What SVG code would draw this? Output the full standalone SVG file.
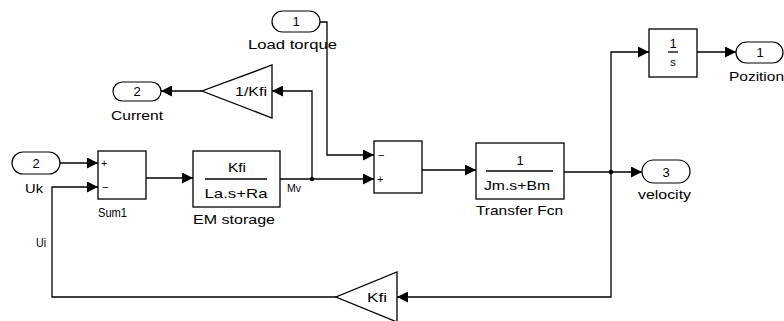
<svg xmlns="http://www.w3.org/2000/svg" width="784" height="321" viewBox="0 0 784 321">
<style>
.blk{fill:#fff;stroke:#000;stroke-width:1.3}
.port{fill:#fff;stroke:#000;stroke-width:1.2}
.ln{fill:none;stroke:#000;stroke-width:1.3}
text{font-family:"Liberation Sans",Arial,sans-serif;font-size:13px;fill:#000}
.c{text-anchor:middle}
.sm{font-size:11px}
</style>
<defs>
<marker id="ah" markerUnits="userSpaceOnUse" markerWidth="11" markerHeight="11" refX="10" refY="5" orient="auto" viewBox="0 0 10 10">
<path d="M0,0 L10,5 L0,10 z" fill="#000"/>
</marker>
</defs>
<rect width="784" height="321" fill="#fff"/>
<g id="connectors">
<path class="ln" d="M60,163 H98" marker-end="url(#ah)"/>
<path class="ln" d="M336,297 H52 V187 H98" marker-end="url(#ah)"/>
<path class="ln" d="M146,178 H193" marker-end="url(#ah)"/>
<path class="ln" d="M280,179 H374" marker-end="url(#ah)"/>
<path class="ln" d="M312,179 V91 H272" marker-end="url(#ah)"/>
<path class="ln" d="M202,91 H161" marker-end="url(#ah)"/>
<path class="ln" d="M320,22 H327 V155 H374" marker-end="url(#ah)"/>
<path class="ln" d="M422,170 H476" marker-end="url(#ah)"/>
<path class="ln" d="M564,172 H642" marker-end="url(#ah)"/>
<path class="ln" d="M611,172 V52 H649" marker-end="url(#ah)"/>
<path class="ln" d="M697,52 H736" marker-end="url(#ah)"/>
<path class="ln" d="M611,172 V297 H397" marker-end="url(#ah)"/>
<circle cx="312" cy="179" r="2.2" fill="#000"/>
<circle cx="611" cy="172" r="2.2" fill="#000"/>
</g>
<g id="in_uk">
<rect class="port" x="12" y="152" width="48" height="22" rx="11"/>
<text class="c" x="36" y="168">2</text>
<text x="25" y="193" textLength="18" lengthAdjust="spacingAndGlyphs">Uk</text>
</g>
<g id="sum1">
<rect class="blk" x="98" y="151" width="48" height="48"/>
<text class="sm" x="101" y="167">+</text>
<text class="sm" x="102" y="191">−</text>
<text x="98" y="217" textLength="29" lengthAdjust="spacingAndGlyphs">Sum1</text>
</g>
<g id="em_storage">
<rect class="blk" x="193" y="151" width="87" height="56"/>
<text class="c" x="237" y="172" textLength="18" lengthAdjust="spacingAndGlyphs">Kfi</text>
<line class="ln" x1="205" y1="179" x2="267" y2="179"/>
<text class="c" x="236" y="198" textLength="63" lengthAdjust="spacingAndGlyphs">La.s+Ra</text>
<text x="193" y="224" textLength="82" lengthAdjust="spacingAndGlyphs">EM storage</text>
</g>
<text class="sm" x="287" y="192" textLength="14" lengthAdjust="spacingAndGlyphs">Mv</text>
<g id="gain_inv">
<polygon class="blk" points="272,65 272,118 202,91"/>
<text class="c" x="251" y="96" textLength="32" lengthAdjust="spacingAndGlyphs">1/Kfi</text>
</g>
<g id="out_current">
<rect class="port" x="113" y="82" width="48" height="19" rx="9.5"/>
<text class="c" x="137" y="96">2</text>
<text x="111" y="120" textLength="52" lengthAdjust="spacingAndGlyphs">Current</text>
</g>
<g id="in_load">
<rect class="port" x="272" y="11" width="48" height="21" rx="10.5"/>
<text class="c" x="296" y="26">1</text>
<text x="248" y="49" textLength="89" lengthAdjust="spacingAndGlyphs">Load torque</text>
</g>
<g id="sum2">
<rect class="blk" x="374" y="141" width="48" height="52"/>
<text class="sm" x="378" y="159">−</text>
<text class="sm" x="377" y="183">+</text>
</g>
<g id="transfer_fcn">
<rect class="blk" x="476" y="143" width="88" height="56"/>
<text class="c" x="520" y="165">1</text>
<line class="ln" x1="486" y1="171" x2="553" y2="171"/>
<text class="c" x="517" y="190" textLength="66" lengthAdjust="spacingAndGlyphs">Jm.s+Bm</text>
<text x="476" y="215" textLength="87" lengthAdjust="spacingAndGlyphs">Transfer Fcn</text>
</g>
<g id="out_velocity">
<rect class="port" x="642" y="160" width="48" height="23" rx="11.5"/>
<text class="c" x="666" y="177">3</text>
<text x="638" y="199" textLength="53" lengthAdjust="spacingAndGlyphs">velocity</text>
</g>
<g id="integrator">
<rect class="blk" x="649" y="29" width="48" height="48"/>
<text class="c" x="673" y="48">1</text>
<line class="ln" x1="668" y1="52" x2="678" y2="52"/>
<text class="c sm" x="673" y="66">s</text>
</g>
<g id="out_pozition">
<rect class="port" x="736" y="42" width="47" height="21" rx="10.5"/>
<text class="c" x="760" y="57">1</text>
<text x="729" y="81" textLength="55" lengthAdjust="spacingAndGlyphs">Pozition</text>
</g>
<text x="36" y="247" textLength="10" lengthAdjust="spacingAndGlyphs">Ui</text>
<g id="gain_kfi">
<polygon class="blk" points="397,272 397,322 336,297"/>
<text x="367" y="302" textLength="20" lengthAdjust="spacingAndGlyphs">Kfi</text>
</g>
</svg>
